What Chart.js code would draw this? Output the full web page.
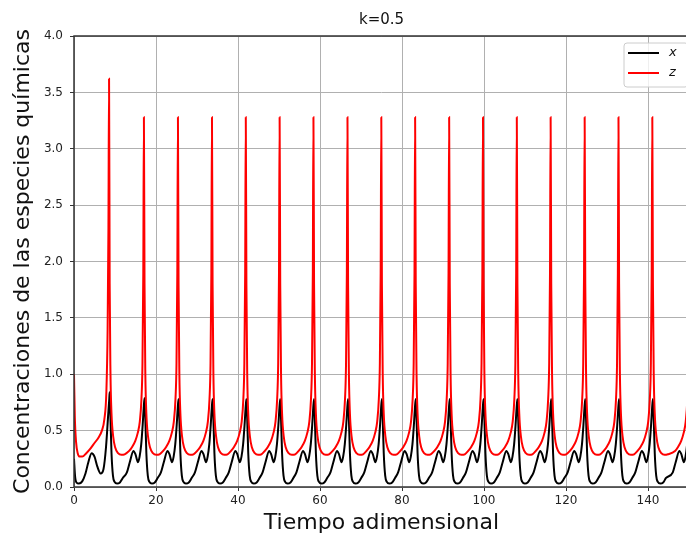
<!DOCTYPE html>
<html>
<head>
<meta charset="utf-8">
<script src="https://cdn.jsdelivr.net/npm/chart.js@4.4.0/dist/chart.umd.min.js"></script>
<style>
  html, body { margin: 0; padding: 0; background: #fff; overflow: hidden; }
  #wrap { width: 692px; height: 539px; }
</style>
</head>
<body>
<div id="wrap"><canvas id="chart" width="692" height="539"></canvas></div>
<script>
// times of the red spikes
const peakTimes = [8.55, 17.05, 25.35, 33.65, 41.9, 50.15, 58.4, 66.7, 74.95, 83.2, 91.5, 99.75, 108.0, 116.25, 124.55, 132.8, 141.05, 150.2];
const zPeaks = [3.62, 3.28, 3.28, 3.28, 3.28, 3.28, 3.28, 3.28, 3.28, 3.28, 3.28, 3.28, 3.28, 3.28, 3.28, 3.28, 3.28, 3.28];
const xPeaks = [0.84, 0.79, 0.78, 0.78, 0.78, 0.78, 0.78, 0.78, 0.78, 0.78, 0.78, 0.78, 0.78, 0.78, 0.78, 0.78, 0.78, 0.78];

// start of the run, before the first spike
const zStartT = [0, 0.2, 0.5, 0.9, 1.4, 2.0, 3.0, 4.0, 5.0, 6.0, 6.8, 7.4, 7.9, 8.2, 8.4];
const zStartV = [1.0, 0.62, 0.4, 0.3, 0.27, 0.27, 0.3, 0.34, 0.39, 0.44, 0.5, 0.6, 0.85, 1.4, 2.3];
const xStartT = [0, 0.25, 0.6, 1.2, 2.0, 2.8, 3.5, 4.3, 5.0, 5.7, 6.5, 7.2, 7.8, 8.3, 8.6];
const xStartV = [0.25, 0.1, 0.04, 0.03, 0.05, 0.12, 0.22, 0.30, 0.27, 0.18, 0.12, 0.16, 0.35, 0.62, 0.78];

// shape of one cycle: values just after a spike (time since spike)
// and just before the next one (time to spike, negative)
const zAfterT = [0.15, 0.35, 0.6, 1.0, 1.5, 2.2, 3.0, 3.8];
const zAfterV = [1.8, 1.0, 0.65, 0.45, 0.35, 0.30, 0.285, 0.29];
const zBeforeT = [-3.6, -2.8, -2.1, -1.5, -1.0, -0.6, -0.35, -0.15];
const zBeforeV = [0.32, 0.36, 0.41, 0.48, 0.58, 0.78, 1.1, 1.9];

const xAfterT = [0.2, 0.45, 0.8, 1.2, 1.8, 2.5, 3.2];
const xAfterV = [0.6, 0.3, 0.1, 0.045, 0.03, 0.04, 0.08];
const xBeforeT = [-4.3, -3.6, -2.7, -2.2, -1.6, -1.2, -0.8, -0.45, -0.2];
const xBeforeV = [0.13, 0.22, 0.32, 0.29, 0.22, 0.27, 0.38, 0.55, 0.7];

const xTicks = [0, 20, 40, 60, 80, 100, 120, 140];
const yTicks = [0, 0.5, 1.0, 1.5, 2.0, 2.5, 3.0, 3.5, 4.0];
const chartTitle = 'k=0.5';

function buildSeries(startT, startV, peakVals, shift, afterT, afterV, beforeT, beforeV) {
  const pts = startT.map((t, i) => ({ x: t, y: startV[i] }));
  peakTimes.forEach((tp, i) => {
    if (i > 0) {
      beforeT.forEach((d, j) => pts.push({ x: tp + shift + d, y: beforeV[j] }));
    }
    pts.push({ x: tp + shift, y: peakVals[i] });
    if (i < peakTimes.length - 1) {
      afterT.forEach((d, j) => pts.push({ x: tp + shift + d, y: afterV[j] }));
    }
  });
  return pts;
}

const xData = buildSeries(xStartT, xStartV, xPeaks, 0.15, xAfterT, xAfterV, xBeforeT, xBeforeV);
const zData = buildSeries(zStartT, zStartV, zPeaks, 0, zAfterT, zAfterV, zBeforeT, zBeforeV);

const FONT = '"DejaVu Sans", sans-serif';

const frame = {
  id: 'frame',
  afterDraw(chart) {
    const { ctx, chartArea: a } = chart;
    ctx.save();
    ctx.strokeStyle = '#333';
    ctx.lineWidth = 1.5;
    ctx.strokeRect(a.left, a.top, a.right - a.left, a.bottom - a.top);

    // title centred over the plot area
    ctx.fillStyle = '#111';
    ctx.font = '15px ' + FONT;
    ctx.textAlign = 'center';
    ctx.textBaseline = 'middle';
    ctx.fillText(chartTitle, (a.left + a.right) / 2, 20);

    // legend, upper right
    const bx = a.right - 65, by = a.top + 7, bw = 64, bh = 44;
    ctx.beginPath();
    ctx.roundRect(bx, by, bw, bh, 3);
    ctx.fillStyle = 'rgba(255,255,255,0.8)';
    ctx.fill();
    ctx.strokeStyle = '#cccccc';
    ctx.lineWidth = 1;
    ctx.stroke();
    ctx.font = 'italic 13px ' + FONT;
    ctx.textAlign = 'left';
    chart.data.datasets.forEach((ds, i) => {
      const y = by + 10 + i * 20;
      ctx.strokeStyle = ds.borderColor;
      ctx.lineWidth = 2;
      ctx.beginPath();
      ctx.moveTo(bx + 4, y);
      ctx.lineTo(bx + 35, y);
      ctx.stroke();
      ctx.fillStyle = '#111';
      ctx.fillText(ds.label, bx + 45, y);
    });
    ctx.restore();
  }
};

new Chart(document.getElementById('chart'), {
  type: 'line',
  data: {
    datasets: [
      { label: 'x', data: xData, borderColor: '#000000', borderWidth: 2, pointRadius: 0, cubicInterpolationMode: 'monotone', order: 1 },
      { label: 'z', data: zData, borderColor: '#ff0000', borderWidth: 2, pointRadius: 0, cubicInterpolationMode: 'monotone', order: 0 }
    ]
  },
  options: {
    responsive: false,
    animation: false,
    devicePixelRatio: 1,
    layout: { padding: { left: 0, right: 3, top: 36, bottom: 0 } },
    plugins: {
      legend: { display: false },
      tooltip: { enabled: false },
      title: { display: false }
    },
    scales: {
      x: {
        type: 'linear',
        min: 0,
        max: 150,
        afterBuildTicks(s) { s.ticks = xTicks.map(v => ({ value: v })); },
        afterFit(s) { s.height = 52; },
        ticks: { color: '#222', font: { family: FONT, size: 12 }, padding: 3, maxRotation: 0, autoSkip: false },
        grid: { color: '#b0b0b0', lineWidth: 1, tickLength: 4, tickColor: '#333' },
        border: { display: false },
        title: {
          display: true,
          text: 'Tiempo adimensional',
          color: '#111',
          font: { family: FONT, size: 22 },
          padding: { top: 0, bottom: 2.8 }
        }
      },
      y: {
        min: 0,
        max: 4,
        afterBuildTicks(s) { s.ticks = yTicks.map(v => ({ value: v })); },
        afterFit(s) { s.width = 74; },
        ticks: { color: '#222', font: { family: FONT, size: 12 }, padding: 7, callback: v => v.toFixed(1) },
        grid: { color: '#b0b0b0', lineWidth: 1, tickLength: 4, tickColor: '#333' },
        border: { display: false },
        title: {
          display: true,
          text: 'Concentraciones de las especies químicas',
          color: '#111',
          font: { family: FONT, size: 22 },
          padding: { top: 10, bottom: 0 }
        }
      }
    }
  },
  plugins: [frame]
});
</script>
</body>
</html>
